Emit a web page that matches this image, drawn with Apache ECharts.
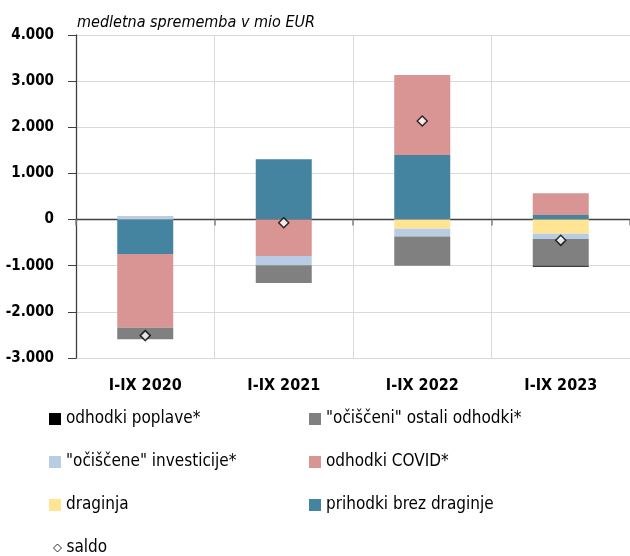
<!DOCTYPE html>
<html>
<head>
<meta charset="utf-8">
<script src="https://cdn.jsdelivr.net/npm/echarts@6/dist/echarts.min.js"></script>
<style>
    html, body { margin: 0; padding: 0; background: #ffffff; }
    #chart { width: 630px; height: 556px; }
</style>
</head>
<body>
<div id="chart"></div>
<script>
// medletna sprememba v mio EUR
const categories = ["I-IX 2020", "I-IX 2021", "I-IX 2022", "I-IX 2023"];
const prihodki = [-745, 1305, 1400, 100];
const covid = [-1600, -790, 1735, 470];
const draginja = [0, 0, -200, -305];
const investicije = [80, -200, -165, -115];
const ostali = [-250, -385, -635, -580];
const poplave = [0, 0, 0, -20];
const saldo = [-2515, -70, 2135, -450];

// condensed face of DejaVu, closest to the narrow font of the original
const FONT = "'DejaVu Sans', sans-serif";
const NORMAL = "condensed";
const BOLD = "condensed bold";

const chart = echarts.init(document.getElementById("chart"), null, { renderer: "canvas" });

function fmt(v) {
    const s = Math.abs(v).toString().replace(/\B(?=(\d{3})+(?!\d))/g, ".");
    return (v < 0 ? "-" : "") + s;
}

function bar(name, data, color) {
    return {
        name: name,
        type: "bar",
        stack: "a",
        barWidth: 56,
        data: data,
        itemStyle: { color: color },
    };
}

const legendText = { fontFamily: FONT, fontWeight: NORMAL, fontSize: 17, color: "#000", lineHeight: 20 };

function legend(left, top, items, size) {
    return {
        orient: "vertical",
        left: left,
        top: top,
        itemWidth: size || 12,
        itemHeight: size || 12,
        itemGap: 23,
        textStyle: legendText,
        data: items,
    };
}

const option = {
    backgroundColor: "#ffffff",
    animation: false,
    textStyle: { fontFamily: FONT },
    title: {
        text: "medletna sprememba v mio EUR",
        left: 72,
        top: 10,
        textStyle: {
            fontFamily: FONT,
            fontStyle: "italic",
            fontWeight: NORMAL,
            fontSize: 16,
            color: "#000",
        },
    },
    legend: [
        legend(44, 404, [
            { name: "odhodki poplave*", icon: "rect" },
            { name: "\"očiščene\" investicije*", icon: "rect" },
            { name: "draginja", icon: "rect" },
        ]),
        legend(48, 533, [
            { name: "saldo", icon: "diamond", itemStyle: { color: "#fff", borderColor: "#000", borderWidth: 1 } },
        ], 8),
        legend(304, 404, [
            { name: "\"očiščeni\" ostali odhodki*", icon: "rect" },
            { name: "odhodki COVID*", icon: "rect" },
            { name: "prihodki brez draginje", icon: "rect" },
        ]),
    ],
    grid: {
        left: 76,
        top: 35,
        width: 562,
        height: 323,
        containLabel: false,
    },
    xAxis: [
        {
            type: "category",
            data: categories,
            position: "bottom",
            axisLine: { show: false, onZero: false },
            axisTick: { show: false },
            splitLine: { show: true, lineStyle: { color: "#d9d9d9", width: 1 } },
            axisLabel: {
                margin: 20,
                fontFamily: FONT,
                fontWeight: BOLD,
                fontSize: 16,
                color: "#000",
            },
        },
        {
            type: "category",
            data: categories,
            position: "bottom",
            axisLine: { show: true, onZero: true, lineStyle: { color: "#404040", width: 1.3 } },
            axisTick: { show: true, inside: false, length: 6, lineStyle: { color: "#808080", width: 1.5 } },
            axisLabel: { show: false },
            splitLine: { show: false },
        },
    ],
    yAxis: {
        type: "value",
        min: -3000,
        max: 4000,
        interval: 1000,
        axisLine: { show: true, lineStyle: { color: "#404040", width: 1.3 } },
        axisTick: { show: true, length: 8, lineStyle: { color: "#404040" } },
        splitLine: { show: true, lineStyle: { color: "#d9d9d9", width: 1 } },
        axisLabel: {
            margin: 22,
            fontFamily: FONT,
            fontWeight: BOLD,
            fontSize: 15,
            color: "#000",
            formatter: fmt,
        },
    },
    series: [
        bar("prihodki brez draginje", prihodki, "#4584a0"),
        bar("odhodki COVID*", covid, "#d99594"),
        bar("draginja", draginja, "#ffe494"),
        bar("\"očiščene\" investicije*", investicije, "#b8cce4"),
        bar("\"očiščeni\" ostali odhodki*", ostali, "#808080"),
        bar("odhodki poplave*", poplave, "#000000"),
        {
            name: "saldo",
            type: "scatter",
            data: saldo,
            symbol: "diamond",
            symbolSize: 10,
            z: 10,
            itemStyle: { color: "#ffffff", borderColor: "#000000", borderWidth: 1.5 },
        },
    ],
};

chart.setOption(option);
</script>
</body>
</html>
